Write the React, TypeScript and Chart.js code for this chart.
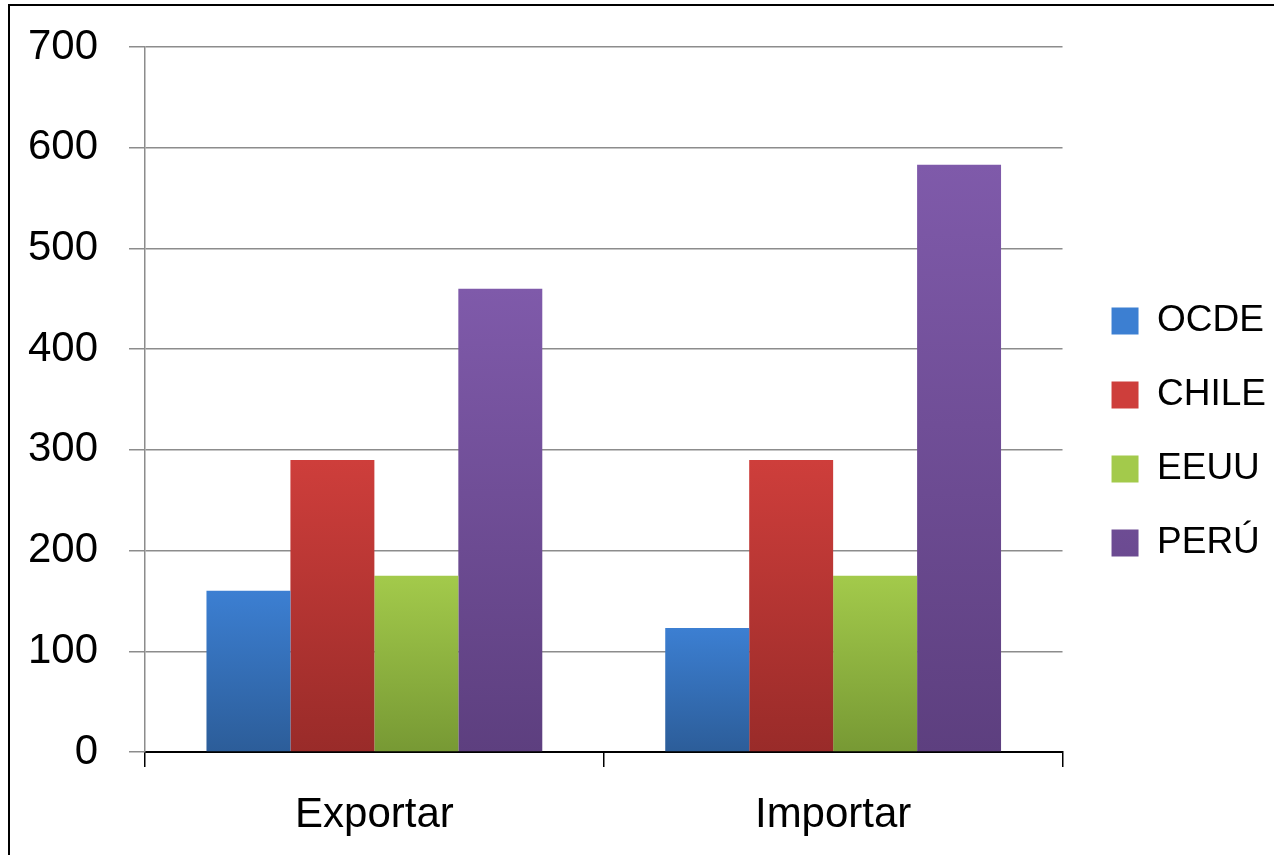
import React, { useEffect, useRef } from "react";
import { Chart, registerables } from "chart.js";

Chart.register(...registerables);

const categories = ["Exportar", "Importar"];
const seriesNames = ["OCDE", "CHILE", "EEUU", "PERÚ"];
const ocde = [160, 123];
const chile = [290, 290];
const eeuu = [175, 175];
const peru = [460, 583];
const yTicks = [0, 100, 200, 300, 400, 500, 600, 700];

const palette: [string, string, string][] = [
  ["#3C7FD2", "#2C5D99", "#3470BA"],
  ["#CE3E3B", "#992B29", "#B93634"],
  ["#A3CA4B", "#779934", "#8EB240"],
  ["#7F5AAA", "#5D3F7F", "#71509A"],
];

const FONT = "'Liberation Sans', Arial, sans-serif";

function fill(idx: number) {
  const [top, bottom, mid] = palette[idx];
  return (ctx: any) => {
    const chart = ctx.chart;
    if (!chart.chartArea || ctx.type !== "data" || !chart.scales.y) return mid;
    const ys = chart.scales.y;
    const yTop = ys.getPixelForValue(ctx.raw);
    const yBot = ys.getPixelForValue(0);
    if (!isFinite(yTop) || !isFinite(yBot) || yTop === yBot) return mid;
    const g = chart.ctx.createLinearGradient(0, yTop, 0, yBot);
    g.addColorStop(0, top);
    g.addColorStop(1, bottom);
    return g;
  };
}

export default function App() {
  const ref = useRef<HTMLCanvasElement | null>(null);
  useEffect(() => {
    if (!ref.current) return;
    const values = [ocde, chile, eeuu, peru];
    const chart = new Chart(ref.current, {
      type: "bar",
      data: {
        labels: categories,
        datasets: seriesNames.map((name, i) => ({
          label: name,
          data: values[i],
          backgroundColor: fill(i),
          borderWidth: 0,
          categoryPercentage: 0.732,
          barPercentage: 1,
        })),
      },
      options: {
        animation: false,
        responsive: false,
        maintainAspectRatio: false,
        layout: { padding: { top: 3, bottom: 0, left: 0, right: -2 } },
        plugins: {
          tooltip: { enabled: false },
          legend: {
            position: "right",
            labels: {
              boxWidth: 27,
              boxHeight: 27,
              padding: 37,
              color: "#000",
              font: { family: FONT, size: 37 },
            },
          },
        },
        scales: {
          x: {
            grid: {
              offset: true,
              drawOnChartArea: false,
              drawTicks: true,
              tickLength: 15,
              color: "#000",
              lineWidth: 1.5,
            },
            border: { display: true, color: "#000", width: 2 },
            ticks: {
              color: "#000",
              padding: 23,
              font: { family: FONT, size: 42 },
            },
            afterFit: (s: any) => {
              s.height = 103;
            },
          },
          xTop: {
            type: "linear",
            position: "top",
            display: true,
            grid: { display: false, drawTicks: false },
            border: { display: false },
            ticks: { display: false },
            afterFit: (s: any) => {
              s.height = 38;
              s.paddingLeft = 0;
              s.paddingRight = 0;
            },
          },
          y: {
            min: 0,
            max: 700,
            afterBuildTicks: (s: any) => {
              s.ticks = yTicks.map((v) => ({ value: v }));
            },
            grid: {
              color: "#8C8C8C",
              lineWidth: 1.5,
              tickLength: 16,
            },
            border: { display: true, color: "#8C8C8C", width: 1.5 },
            ticks: {
              color: "#000",
              padding: 31,
              font: { family: FONT, size: 42 },
            },
            afterFit: (s: any) => {
              s.width = 135;
              s.paddingTop = 0;
              s.paddingBottom = 0;
            },
          },
          y2: {
            type: "linear",
            position: "right",
            display: true,
            grid: { display: false, drawTicks: false },
            border: { display: false },
            ticks: { display: false },
            afterFit: (s: any) => {
              s.width = 12;
              s.paddingTop = 0;
              s.paddingBottom = 0;
            },
          },
        },
      } as any,
    });
    return () => chart.destroy();
  }, []);

  return (
    <div
      style={{
        position: "absolute",
        left: 8,
        top: 4,
        width: 1266,
        height: 851,
        borderTop: "2px solid #000",
        borderLeft: "2px solid #000",
        boxSizing: "border-box",
        background: "#fff",
      }}
    >
      <canvas ref={ref} width={1264} height={849} style={{ display: "block" }} />
    </div>
  );
}
